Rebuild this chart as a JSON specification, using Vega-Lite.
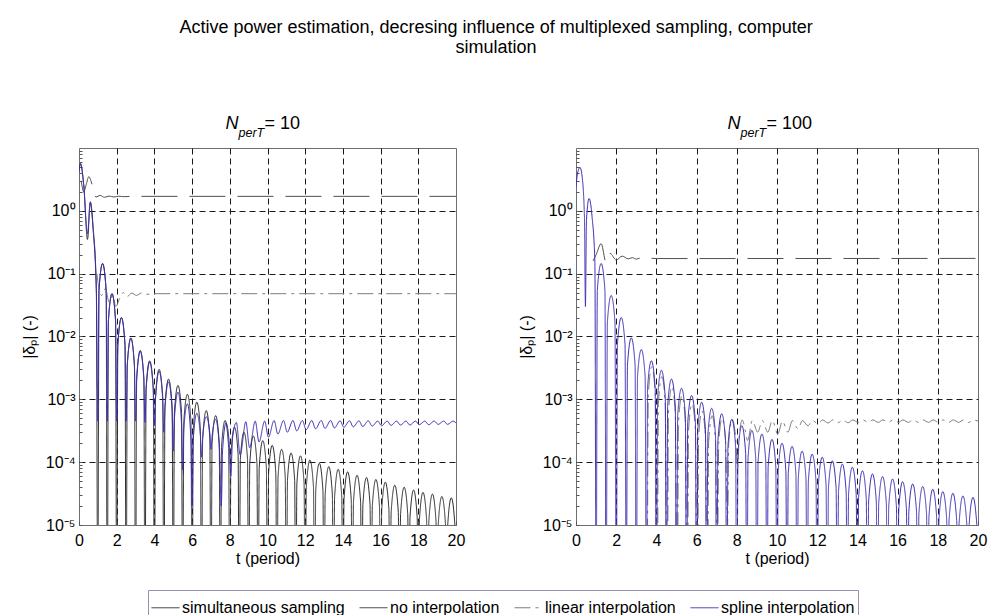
{
"$schema": "https://vega.github.io/schema/vega-lite/v6.json",
"background": "white",
"padding": {"left": 20, "top": 18, "right": 5, "bottom": 5},
"title": {"text": ["Active power estimation, decresing influence of multiplexed sampling, computer", "simulation"], "fontSize": 18, "fontWeight": "normal", "font": "Liberation Sans", "anchor": "middle", "offset": 58, "lineHeight": 20, "dx": -8, "color": "#000"},
"spacing": 51,
"datasets": {
"L": [
{"s":"a","t":0,"v":4.2},{"s":"a","t":0.08,"v":5.6},{"s":"a","t":0.25,"v":2.6},{"s":"a","t":0.45,"v":0.35},{"s":"a","t":0.6,"v":1.35},{"s":"a","t":0.75,"v":0.5},{"s":"a","t":0.92,"v":0.05},{"s":"a","t":1,"v":1e-7},
{"s":"a","t":1.06,"v":0.0537},{"s":"a","t":1.25,"v":0.145},{"s":"a","t":1.44,"v":0.0537},{"s":"a","t":1.5,"v":1e-7},
{"s":"a","t":1.56,"v":0.0178},{"s":"a","t":1.75,"v":0.048},{"s":"a","t":1.94,"v":0.0178},{"s":"a","t":2,"v":1e-7},
{"s":"a","t":2.06,"v":0.0074},{"s":"a","t":2.25,"v":0.02},{"s":"a","t":2.44,"v":0.0074},{"s":"a","t":2.5,"v":1e-7},
{"s":"a","t":2.56,"v":0.0035},{"s":"a","t":2.75,"v":0.0095},{"s":"a","t":2.94,"v":0.0035},{"s":"a","t":3,"v":1e-7},
{"s":"a","t":3.06,"v":0.0022},{"s":"a","t":3.25,"v":0.006},{"s":"a","t":3.44,"v":0.0022},{"s":"a","t":3.5,"v":1e-7},
{"s":"a","t":3.56,"v":0.00152},{"s":"a","t":3.75,"v":0.0041},{"s":"a","t":3.94,"v":0.00152},{"s":"a","t":4,"v":1e-7},
{"s":"a","t":4.06,"v":0.00111},{"s":"a","t":4.25,"v":0.003},{"s":"a","t":4.44,"v":0.00111},{"s":"a","t":4.5,"v":1e-7},
{"s":"a","t":4.56,"v":7.8e-4},{"s":"a","t":4.75,"v":0.0021},{"s":"a","t":4.94,"v":7.8e-4},{"s":"a","t":5,"v":1e-7},
{"s":"a","t":5.06,"v":6.1e-4},{"s":"a","t":5.25,"v":0.00166},{"s":"a","t":5.44,"v":6.1e-4},{"s":"a","t":5.5,"v":1e-7},
{"s":"a","t":5.56,"v":4.4e-4},{"s":"a","t":5.75,"v":0.0012},{"s":"a","t":5.94,"v":4.4e-4},{"s":"a","t":6,"v":1e-7},
{"s":"a","t":6.06,"v":3.3e-4},{"s":"a","t":6.25,"v":9e-4},{"s":"a","t":6.44,"v":3.3e-4},{"s":"a","t":6.5,"v":1e-7},
{"s":"a","t":6.56,"v":2.4e-4},{"s":"a","t":6.75,"v":6.6e-4},{"s":"a","t":6.94,"v":2.4e-4},{"s":"a","t":7,"v":1e-7},
{"s":"a","t":7.06,"v":2e-4},{"s":"a","t":7.25,"v":5.5e-4},{"s":"a","t":7.44,"v":2e-4},{"s":"a","t":7.5,"v":1e-7},
{"s":"a","t":7.56,"v":1.7e-4},{"s":"a","t":7.75,"v":4.6e-4},{"s":"a","t":7.94,"v":1.7e-4},{"s":"a","t":8,"v":1e-7},
{"s":"a","t":8.06,"v":1.33e-4},{"s":"a","t":8.25,"v":3.6e-4},{"s":"a","t":8.44,"v":1.33e-4},{"s":"a","t":8.5,"v":1e-7},
{"s":"a","t":8.56,"v":1.11e-4},{"s":"a","t":8.75,"v":3e-4},{"s":"a","t":8.94,"v":1.11e-4},{"s":"a","t":9,"v":1e-7},
{"s":"a","t":9.06,"v":9.6e-5},{"s":"a","t":9.25,"v":2.6e-4},{"s":"a","t":9.44,"v":9.6e-5},{"s":"a","t":9.5,"v":1e-7},
{"s":"a","t":9.56,"v":8.1e-5},{"s":"a","t":9.75,"v":2.2e-4},{"s":"a","t":9.94,"v":8.1e-5},{"s":"a","t":10,"v":1e-7},
{"s":"a","t":10.06,"v":6.8e-5},{"s":"a","t":10.25,"v":1.85e-4},{"s":"a","t":10.44,"v":6.8e-5},{"s":"a","t":10.5,"v":1e-7},
{"s":"a","t":10.56,"v":5.9e-5},{"s":"a","t":10.75,"v":1.6e-4},{"s":"a","t":10.94,"v":5.9e-5},{"s":"a","t":11,"v":1e-7},
{"s":"a","t":11.06,"v":5.2e-5},{"s":"a","t":11.25,"v":1.4e-4},{"s":"a","t":11.44,"v":5.2e-5},{"s":"a","t":11.5,"v":1e-7},
{"s":"a","t":11.56,"v":4.7e-5},{"s":"a","t":11.75,"v":1.26e-4},{"s":"a","t":11.94,"v":4.7e-5},{"s":"a","t":12,"v":1e-7},
{"s":"a","t":12.06,"v":4e-5},{"s":"a","t":12.25,"v":1.08e-4},{"s":"a","t":12.44,"v":4e-5},{"s":"a","t":12.5,"v":1e-7},
{"s":"a","t":12.56,"v":3.6e-5},{"s":"a","t":12.75,"v":9.6e-5},{"s":"a","t":12.94,"v":3.6e-5},{"s":"a","t":13,"v":1e-7},
{"s":"a","t":13.06,"v":3.1e-5},{"s":"a","t":13.25,"v":8.5e-5},{"s":"a","t":13.44,"v":3.1e-5},{"s":"a","t":13.5,"v":1e-7},
{"s":"a","t":13.56,"v":2.8e-5},{"s":"a","t":13.75,"v":7.7e-5},{"s":"a","t":13.94,"v":2.8e-5},{"s":"a","t":14,"v":1e-7},
{"s":"a","t":14.06,"v":2.6e-5},{"s":"a","t":14.25,"v":7e-5},{"s":"a","t":14.44,"v":2.6e-5},{"s":"a","t":14.5,"v":1e-7},
{"s":"a","t":14.56,"v":2.3e-5},{"s":"a","t":14.75,"v":6.2e-5},{"s":"a","t":14.94,"v":2.3e-5},{"s":"a","t":15,"v":1e-7},
{"s":"a","t":15.06,"v":2.1e-5},{"s":"a","t":15.25,"v":5.7e-5},{"s":"a","t":15.44,"v":2.1e-5},{"s":"a","t":15.5,"v":1e-7},
{"s":"a","t":15.56,"v":1.96e-5},{"s":"a","t":15.75,"v":5.3e-5},{"s":"a","t":15.94,"v":1.96e-5},{"s":"a","t":16,"v":1e-7},
{"s":"a","t":16.06,"v":1.78e-5},{"s":"a","t":16.25,"v":4.8e-5},{"s":"a","t":16.44,"v":1.78e-5},{"s":"a","t":16.5,"v":1e-7},
{"s":"a","t":16.56,"v":1.6e-5},{"s":"a","t":16.75,"v":4.3e-5},{"s":"a","t":16.94,"v":1.6e-5},{"s":"a","t":17,"v":1e-7},
{"s":"a","t":17.06,"v":1.48e-5},{"s":"a","t":17.25,"v":4e-5},{"s":"a","t":17.44,"v":1.48e-5},{"s":"a","t":17.5,"v":1e-7},
{"s":"a","t":17.56,"v":1.33e-5},{"s":"a","t":17.75,"v":3.6e-5},{"s":"a","t":17.94,"v":1.33e-5},{"s":"a","t":18,"v":1e-7},
{"s":"a","t":18.06,"v":1.22e-5},{"s":"a","t":18.25,"v":3.3e-5},{"s":"a","t":18.44,"v":1.22e-5},{"s":"a","t":18.5,"v":1e-7},
{"s":"a","t":18.56,"v":1.15e-5},{"s":"a","t":18.75,"v":3.1e-5},{"s":"a","t":18.94,"v":1.15e-5},{"s":"a","t":19,"v":1e-7},
{"s":"a","t":19.06,"v":1.05e-5},{"s":"a","t":19.25,"v":2.85e-5},{"s":"a","t":19.44,"v":1.05e-5},{"s":"a","t":19.5,"v":1e-7},
{"s":"a","t":19.56,"v":1e-5},{"s":"a","t":19.75,"v":2.7e-5},{"s":"a","t":19.94,"v":1e-5},{"s":"a","t":20,"v":1e-7},
{"s":"b","t":0.12,"v":3.0},{"s":"b","t":0.25,"v":2.0},{"s":"b","t":0.38,"v":2.6},{"s":"b","t":0.52,"v":3.5},{"s":"b","t":0.7,"v":2.6},{"s":"b","t":0.9,"v":1.66},{"s":"b","t":1.12,"v":1.76},{"s":"b","t":1.35,"v":1.64},{"s":"b","t":1.6,"v":1.72},{"s":"b","t":1.85,"v":1.66},{"s":"b","t":2.1,"v":1.71},{"s":"b","t":2.4,"v":1.68},{"s":"b","t":2.8,"v":1.7},{"s":"b","t":20,"v":1.7},
{"s":"c","t":0.95,"v":0.1},{"s":"c","t":1.05,"v":0.06},{"s":"c","t":1.2,"v":0.045},{"s":"c","t":1.4,"v":0.058},{"s":"c","t":1.6,"v":0.035},{"s":"c","t":1.8,"v":0.045},{"s":"c","t":1.95,"v":0.03},{"s":"c","t":2.15,"v":0.04},{"s":"c","t":2.35,"v":0.05},{"s":"c","t":2.55,"v":0.043},{"s":"c","t":2.8,"v":0.049},{"s":"c","t":3.05,"v":0.045},{"s":"c","t":3.3,"v":0.049},{"s":"c","t":3.6,"v":0.047},{"s":"c","t":4,"v":0.048},{"s":"c","t":20,"v":0.048},
{"s":"d","t":0,"v":4.5},{"s":"d","t":0.08,"v":5.7},{"s":"d","t":0.25,"v":2.6},{"s":"d","t":0.45,"v":0.43},{"s":"d","t":0.6,"v":1.4},{"s":"d","t":0.75,"v":0.55},{"s":"d","t":0.92,"v":0.06},{"s":"d","t":1,"v":4.5e-4},
{"s":"d","t":1.06,"v":0.0537},{"s":"d","t":1.25,"v":0.145},{"s":"d","t":1.44,"v":0.0537},{"s":"d","t":1.5,"v":4.5e-4},
{"s":"d","t":1.56,"v":0.0178},{"s":"d","t":1.75,"v":0.048},{"s":"d","t":1.94,"v":0.0178},{"s":"d","t":2,"v":4.5e-4},
{"s":"d","t":2.06,"v":0.0074},{"s":"d","t":2.25,"v":0.02},{"s":"d","t":2.44,"v":0.0074},{"s":"d","t":2.5,"v":4.5e-4},
{"s":"d","t":2.56,"v":0.0035},{"s":"d","t":2.75,"v":0.0093},{"s":"d","t":2.94,"v":0.0034},{"s":"d","t":3,"v":4.5e-4},
{"s":"d","t":3.06,"v":0.0021},{"s":"d","t":3.25,"v":0.0058},{"s":"d","t":3.44,"v":0.0021},{"s":"d","t":3.5,"v":4.3e-4},
{"s":"d","t":3.56,"v":0.0014},{"s":"d","t":3.75,"v":0.0039},{"s":"d","t":3.94,"v":0.0014},{"s":"d","t":4,"v":3.8e-4},
{"s":"d","t":4.06,"v":0.001},{"s":"d","t":4.25,"v":0.0028},{"s":"d","t":4.44,"v":0.001},{"s":"d","t":4.5,"v":3e-4},
{"s":"d","t":4.56,"v":7e-4},{"s":"d","t":4.75,"v":0.0019},{"s":"d","t":4.94,"v":6.5e-4},{"s":"d","t":5,"v":1.5e-4},
{"s":"d","t":5.06,"v":4.8e-4},{"s":"d","t":5.25,"v":0.0013},{"s":"d","t":5.44,"v":4e-4},{"s":"d","t":5.5,"v":7.5e-5},
{"s":"d","t":5.56,"v":3.3e-4},{"s":"d","t":5.75,"v":8.5e-4},{"s":"d","t":5.94,"v":2.2e-4},{"s":"d","t":6,"v":2e-5},
{"s":"d","t":6.06,"v":2.2e-4},{"s":"d","t":6.25,"v":6e-4},{"s":"d","t":6.44,"v":2.6e-4},{"s":"d","t":6.5,"v":1.2e-4},
{"s":"d","t":6.56,"v":2.4e-4},{"s":"d","t":6.75,"v":5.3e-4},{"s":"d","t":6.94,"v":2.9e-4},{"s":"d","t":7,"v":1.6e-4},
{"s":"d","t":7.06,"v":2.6e-4},{"s":"d","t":7.25,"v":4.8e-4},{"s":"d","t":7.44,"v":1.8e-4},{"s":"d","t":7.55,"v":2e-5},
{"s":"d","t":7.62,"v":1.6e-4},{"s":"d","t":7.8,"v":4.2e-4},{"s":"d","t":7.96,"v":2.2e-4},{"s":"d","t":8.05,"v":6e-5},
{"s":"d","t":8.15,"v":2.5e-4},{"s":"d","t":8.35,"v":4.3e-4},{"s":"d","t":8.55,"v":1.3e-4},{"s":"d","t":8.85,"v":4.4e-4},
{"s":"d","t":9.05,"v":1.7e-4},{"s":"d","t":9.35,"v":4.5e-4},{"s":"d","t":9.55,"v":2.1e-4},{"s":"d","t":9.85,"v":4.5e-4},
{"s":"d","t":10.05,"v":2.5e-4},{"s":"d","t":10.35,"v":4.6e-4},{"s":"d","t":10.55,"v":2.8e-4},{"s":"d","t":10.85,"v":4.6e-4},
{"s":"d","t":11.05,"v":3e-4},{"s":"d","t":11.35,"v":4.6e-4},{"s":"d","t":11.55,"v":3.15e-4},{"s":"d","t":11.85,"v":4.6e-4},
{"s":"d","t":12.05,"v":3.3e-4},{"s":"d","t":12.35,"v":4.6e-4},{"s":"d","t":12.55,"v":3.4e-4},{"s":"d","t":12.85,"v":4.6e-4},
{"s":"d","t":13.05,"v":3.45e-4},{"s":"d","t":13.35,"v":4.6e-4},{"s":"d","t":13.55,"v":3.5e-4},{"s":"d","t":13.85,"v":4.55e-4},
{"s":"d","t":14.05,"v":3.6e-4},{"s":"d","t":14.35,"v":4.55e-4},{"s":"d","t":14.55,"v":3.65e-4},{"s":"d","t":14.85,"v":4.55e-4},
{"s":"d","t":15.05,"v":3.7e-4},{"s":"d","t":15.35,"v":4.55e-4},{"s":"d","t":15.55,"v":3.75e-4},{"s":"d","t":15.85,"v":4.5e-4},
{"s":"d","t":16.05,"v":3.8e-4},{"s":"d","t":16.35,"v":4.5e-4},{"s":"d","t":16.55,"v":3.85e-4},{"s":"d","t":16.85,"v":4.5e-4},
{"s":"d","t":17.05,"v":3.9e-4},{"s":"d","t":17.35,"v":4.5e-4},{"s":"d","t":17.55,"v":3.9e-4},{"s":"d","t":17.85,"v":4.5e-4},
{"s":"d","t":18.05,"v":3.95e-4},{"s":"d","t":18.35,"v":4.5e-4},{"s":"d","t":18.55,"v":3.95e-4},{"s":"d","t":18.85,"v":4.5e-4},
{"s":"d","t":19.05,"v":4e-4},{"s":"d","t":19.35,"v":4.5e-4},{"s":"d","t":19.55,"v":4e-4},{"s":"d","t":19.85,"v":4.5e-4},{"s":"d","t":20,"v":4.2e-4}
],
"R": [
{"s":"b","t":0.85,"v":0.16},{"s":"b","t":1,"v":0.2},{"s":"b","t":1.25,"v":0.3},{"s":"b","t":1.5,"v":0.15},{"s":"b","t":1.7,"v":0.21},{"s":"b","t":2,"v":0.165},{"s":"b","t":2.3,"v":0.19},{"s":"b","t":2.6,"v":0.172},{"s":"b","t":2.8,"v":0.18},{"s":"b","t":3,"v":0.17},{"s":"b","t":3.2,"v":0.178},{"s":"b","t":3.45,"v":0.172},{"s":"b","t":3.7,"v":0.176},{"s":"b","t":4,"v":0.174},{"s":"b","t":20,"v":0.175},
{"s":"c","t":3.54,"v":1e-7},{"s":"c","t":3.6,"v":0.0012},{"s":"c","t":3.77,"v":0.0033},{"s":"c","t":3.94,"v":0.0012},
{"s":"c","t":4.04,"v":1e-7},{"s":"c","t":4.1,"v":8.5e-4},{"s":"c","t":4.27,"v":0.0023},{"s":"c","t":4.44,"v":8.5e-4},
{"s":"c","t":4.54,"v":1e-7},{"s":"c","t":4.6,"v":6e-4},{"s":"c","t":4.77,"v":0.0016},{"s":"c","t":4.94,"v":6e-4},
{"s":"c","t":5.04,"v":1e-7},{"s":"c","t":5.1,"v":4.3e-4},{"s":"c","t":5.27,"v":0.00115},{"s":"c","t":5.44,"v":4.3e-4},
{"s":"c","t":5.54,"v":1e-7},{"s":"c","t":5.6,"v":3.2e-4},{"s":"c","t":5.77,"v":8.5e-4},{"s":"c","t":5.94,"v":3.2e-4},
{"s":"c","t":6.04,"v":1e-7},{"s":"c","t":6.1,"v":2.5e-4},{"s":"c","t":6.27,"v":6.5e-4},{"s":"c","t":6.44,"v":2.5e-4},
{"s":"c","t":6.54,"v":1e-7},{"s":"c","t":6.6,"v":2.1e-4},{"s":"c","t":6.77,"v":5.5e-4},{"s":"c","t":6.94,"v":2.1e-4},
{"s":"c","t":7.04,"v":2e-6},{"s":"c","t":7.1,"v":2e-4},{"s":"c","t":7.27,"v":5e-4},{"s":"c","t":7.44,"v":2.2e-4},
{"s":"c","t":7.54,"v":1e-5},{"s":"c","t":7.6,"v":2e-4},{"s":"c","t":7.77,"v":4.8e-4},{"s":"c","t":7.94,"v":2.5e-4},
{"s":"c","t":8.04,"v":8e-5},{"s":"c","t":8.12,"v":2.5e-4},{"s":"c","t":8.27,"v":4.7e-4},{"s":"c","t":8.44,"v":3e-4},
{"s":"c","t":8.54,"v":2.2e-4},{"s":"c","t":8.77,"v":4.6e-4},{"s":"c","t":9.04,"v":3e-4},{"s":"c","t":9.27,"v":4.6e-4},
{"s":"c","t":9.54,"v":3e-4},{"s":"c","t":9.77,"v":4.6e-4},{"s":"c","t":10.04,"v":2.8e-4},{"s":"c","t":10.27,"v":4.5e-4},
{"s":"c","t":10.54,"v":3e-4},{"s":"c","t":10.77,"v":4.6e-4},{"s":"c","t":11.04,"v":3.4e-4},{"s":"c","t":11.27,"v":4.6e-4},
{"s":"c","t":11.54,"v":3.8e-4},{"s":"c","t":11.77,"v":4.6e-4},{"s":"c","t":12.04,"v":4.1e-4},{"s":"c","t":12.27,"v":4.7e-4},
{"s":"c","t":12.54,"v":4.2e-4},{"s":"c","t":12.77,"v":4.7e-4},{"s":"c","t":13.04,"v":4.25e-4},{"s":"c","t":13.27,"v":4.7e-4},
{"s":"c","t":13.54,"v":4.25e-4},{"s":"c","t":13.77,"v":4.7e-4},{"s":"c","t":14.04,"v":4.3e-4},{"s":"c","t":14.27,"v":4.7e-4},
{"s":"c","t":14.54,"v":4.3e-4},{"s":"c","t":14.77,"v":4.7e-4},{"s":"c","t":15.04,"v":4.3e-4},{"s":"c","t":15.27,"v":4.7e-4},
{"s":"c","t":15.54,"v":4.3e-4},{"s":"c","t":15.77,"v":4.7e-4},{"s":"c","t":16.04,"v":4.3e-4},{"s":"c","t":16.27,"v":4.7e-4},
{"s":"c","t":16.54,"v":4.3e-4},{"s":"c","t":16.77,"v":4.7e-4},{"s":"c","t":17.04,"v":4.3e-4},{"s":"c","t":17.27,"v":4.7e-4},
{"s":"c","t":17.54,"v":4.3e-4},{"s":"c","t":17.77,"v":4.7e-4},{"s":"c","t":18.04,"v":4.3e-4},{"s":"c","t":18.27,"v":4.7e-4},
{"s":"c","t":18.54,"v":4.3e-4},{"s":"c","t":18.77,"v":4.7e-4},{"s":"c","t":19.04,"v":4.3e-4},{"s":"c","t":19.27,"v":4.7e-4},
{"s":"c","t":19.54,"v":4.3e-4},{"s":"c","t":19.77,"v":4.7e-4},{"s":"c","t":20,"v":4.5e-4},
{"s":"d","t":0,"v":2.4},{"s":"d","t":0.08,"v":4.0},{"s":"d","t":0.2,"v":4.9},{"s":"d","t":0.3,"v":3.6},{"s":"d","t":0.42,"v":0.8},{"s":"d","t":0.47,"v":0.03},{"s":"d","t":0.52,"v":0.7},{"s":"d","t":0.65,"v":1.57},{"s":"d","t":0.8,"v":0.8},{"s":"d","t":0.94,"v":0.15},{"s":"d","t":1,"v":1e-7},
{"s":"d","t":1.06,"v":0.0537},{"s":"d","t":1.25,"v":0.145},{"s":"d","t":1.44,"v":0.0537},{"s":"d","t":1.5,"v":1e-7},
{"s":"d","t":1.56,"v":0.0167},{"s":"d","t":1.75,"v":0.045},{"s":"d","t":1.94,"v":0.0167},{"s":"d","t":2,"v":1e-7},
{"s":"d","t":2.06,"v":0.0074},{"s":"d","t":2.25,"v":0.02},{"s":"d","t":2.44,"v":0.0074},{"s":"d","t":2.5,"v":1e-7},
{"s":"d","t":2.56,"v":0.0035},{"s":"d","t":2.75,"v":0.0095},{"s":"d","t":2.94,"v":0.0035},{"s":"d","t":3,"v":1e-7},
{"s":"d","t":3.06,"v":0.0023},{"s":"d","t":3.25,"v":0.0062},{"s":"d","t":3.44,"v":0.0023},{"s":"d","t":3.5,"v":1e-7},
{"s":"d","t":3.56,"v":0.00152},{"s":"d","t":3.75,"v":0.0041},{"s":"d","t":3.94,"v":0.00152},{"s":"d","t":4,"v":1e-7},
{"s":"d","t":4.06,"v":0.00107},{"s":"d","t":4.25,"v":0.0029},{"s":"d","t":4.44,"v":0.00107},{"s":"d","t":4.5,"v":1e-7},
{"s":"d","t":4.56,"v":7.8e-4},{"s":"d","t":4.75,"v":0.0021},{"s":"d","t":4.94,"v":7.8e-4},{"s":"d","t":5,"v":1e-7},
{"s":"d","t":5.06,"v":5.6e-4},{"s":"d","t":5.25,"v":0.0015},{"s":"d","t":5.44,"v":5.6e-4},{"s":"d","t":5.5,"v":1e-7},
{"s":"d","t":5.56,"v":4.3e-4},{"s":"d","t":5.75,"v":0.00115},{"s":"d","t":5.94,"v":4.3e-4},{"s":"d","t":6,"v":1e-7},
{"s":"d","t":6.06,"v":3.3e-4},{"s":"d","t":6.25,"v":9e-4},{"s":"d","t":6.44,"v":3.3e-4},{"s":"d","t":6.5,"v":1e-7},
{"s":"d","t":6.56,"v":2.7e-4},{"s":"d","t":6.75,"v":7.2e-4},{"s":"d","t":6.94,"v":2.7e-4},{"s":"d","t":7,"v":1e-7},
{"s":"d","t":7.06,"v":2.2e-4},{"s":"d","t":7.25,"v":5.9e-4},{"s":"d","t":7.44,"v":2.2e-4},{"s":"d","t":7.5,"v":1e-7},
{"s":"d","t":7.56,"v":1.8e-4},{"s":"d","t":7.75,"v":4.8e-4},{"s":"d","t":7.94,"v":1.8e-4},{"s":"d","t":8,"v":1e-7},
{"s":"d","t":8.06,"v":1.4e-4},{"s":"d","t":8.25,"v":3.8e-4},{"s":"d","t":8.44,"v":1.4e-4},{"s":"d","t":8.5,"v":1e-7},
{"s":"d","t":8.56,"v":1.18e-4},{"s":"d","t":8.75,"v":3.2e-4},{"s":"d","t":8.94,"v":1.18e-4},{"s":"d","t":9,"v":1e-7},
{"s":"d","t":9.06,"v":1.04e-4},{"s":"d","t":9.25,"v":2.8e-4},{"s":"d","t":9.44,"v":1.04e-4},{"s":"d","t":9.5,"v":1e-7},
{"s":"d","t":9.56,"v":8.5e-5},{"s":"d","t":9.75,"v":2.3e-4},{"s":"d","t":9.94,"v":8.5e-5},{"s":"d","t":10,"v":1e-7},
{"s":"d","t":10.06,"v":7.4e-5},{"s":"d","t":10.25,"v":2e-4},{"s":"d","t":10.44,"v":7.4e-5},{"s":"d","t":10.5,"v":1e-7},
{"s":"d","t":10.56,"v":6.6e-5},{"s":"d","t":10.75,"v":1.78e-4},{"s":"d","t":10.94,"v":6.6e-5},{"s":"d","t":11,"v":1e-7},
{"s":"d","t":11.06,"v":5.6e-5},{"s":"d","t":11.25,"v":1.5e-4},{"s":"d","t":11.44,"v":5.6e-5},{"s":"d","t":11.5,"v":1e-7},
{"s":"d","t":11.56,"v":5e-5},{"s":"d","t":11.75,"v":1.34e-4},{"s":"d","t":11.94,"v":5e-5},{"s":"d","t":12,"v":1e-7},
{"s":"d","t":12.06,"v":4.4e-5},{"s":"d","t":12.25,"v":1.2e-4},{"s":"d","t":12.44,"v":4.4e-5},{"s":"d","t":12.5,"v":1e-7},
{"s":"d","t":12.56,"v":3.9e-5},{"s":"d","t":12.75,"v":1.05e-4},{"s":"d","t":12.94,"v":3.9e-5},{"s":"d","t":13,"v":1e-7},
{"s":"d","t":13.06,"v":3.4e-5},{"s":"d","t":13.25,"v":9.3e-5},{"s":"d","t":13.44,"v":3.4e-5},{"s":"d","t":13.5,"v":1e-7},
{"s":"d","t":13.56,"v":3.1e-5},{"s":"d","t":13.75,"v":8.3e-5},{"s":"d","t":13.94,"v":3.1e-5},{"s":"d","t":14,"v":1e-7},
{"s":"d","t":14.06,"v":2.7e-5},{"s":"d","t":14.25,"v":7.3e-5},{"s":"d","t":14.44,"v":2.7e-5},{"s":"d","t":14.5,"v":1e-7},
{"s":"d","t":14.56,"v":2.4e-5},{"s":"d","t":14.75,"v":6.5e-5},{"s":"d","t":14.94,"v":2.4e-5},{"s":"d","t":15,"v":1e-7},
{"s":"d","t":15.06,"v":2.2e-5},{"s":"d","t":15.25,"v":5.9e-5},{"s":"d","t":15.44,"v":2.2e-5},{"s":"d","t":15.5,"v":1e-7},
{"s":"d","t":15.56,"v":2e-5},{"s":"d","t":15.75,"v":5.4e-5},{"s":"d","t":15.94,"v":2e-5},{"s":"d","t":16,"v":1e-7},
{"s":"d","t":16.06,"v":1.8e-5},{"s":"d","t":16.25,"v":4.9e-5},{"s":"d","t":16.44,"v":1.8e-5},{"s":"d","t":16.5,"v":1e-7},
{"s":"d","t":16.56,"v":1.67e-5},{"s":"d","t":16.75,"v":4.5e-5},{"s":"d","t":16.94,"v":1.67e-5},{"s":"d","t":17,"v":1e-7},
{"s":"d","t":17.06,"v":1.52e-5},{"s":"d","t":17.25,"v":4.1e-5},{"s":"d","t":17.44,"v":1.52e-5},{"s":"d","t":17.5,"v":1e-7},
{"s":"d","t":17.56,"v":1.37e-5},{"s":"d","t":17.75,"v":3.7e-5},{"s":"d","t":17.94,"v":1.37e-5},{"s":"d","t":18,"v":1e-7},
{"s":"d","t":18.06,"v":1.26e-5},{"s":"d","t":18.25,"v":3.4e-5},{"s":"d","t":18.44,"v":1.26e-5},{"s":"d","t":18.5,"v":1e-7},
{"s":"d","t":18.56,"v":1.18e-5},{"s":"d","t":18.75,"v":3.2e-5},{"s":"d","t":18.94,"v":1.18e-5},{"s":"d","t":19,"v":1e-7},
{"s":"d","t":19.06,"v":1.07e-5},{"s":"d","t":19.25,"v":2.9e-5},{"s":"d","t":19.44,"v":1.07e-5},{"s":"d","t":19.5,"v":1e-7},
{"s":"d","t":19.56,"v":1.02e-5},{"s":"d","t":19.75,"v":2.75e-5},{"s":"d","t":19.94,"v":1.02e-5},{"s":"d","t":20,"v":1e-7}
]
},
"hconcat": [
{
"width": 377, "height": 377,
"encoding": {
"x": {"field": "t", "type": "quantitative", "scale": {"domain": [0, 20], "nice": false, "zero": false},
 "axis": {"values": [0,2,4,6,8,10,12,14,16,18,20], "title": "t  (period)", "tickSize": -4, "labelPadding": 11, "titlePadding": 2, "labelOverlap": false, "labelFlush": false, "gridOpacity": {"condition": {"test": "datum.value > 0 && datum.value < 20", "value": 1}, "value": 0}}},
"y": {"field": "v", "type": "quantitative", "scale": {"type": "log", "domain": [1e-5, 10], "nice": false},
 "axis": {"values": [1e-5,2e-5,3e-5,4e-5,5e-5,6e-5,7e-5,8e-5,9e-5,1e-4,2e-4,3e-4,4e-4,5e-4,6e-4,7e-4,8e-4,9e-4,0.001,0.002,0.003,0.004,0.005,0.006,0.007,0.008,0.009,0.01,0.02,0.03,0.04,0.05,0.06,0.07,0.08,0.09,0.1,0.2,0.3,0.4,0.5,0.6,0.7,0.8,0.9,1,2,3,4,5,6,7,8,9],
  "labelExpr": "abs(log(datum.value)/LN10 - round(log(datum.value)/LN10)) < 0.01 ? '10' + ['⁻⁵','⁻⁴','⁻³','⁻²','⁻¹','⁰','¹'][round(log(datum.value)/LN10)+5] : ''",
  "title": "|δₚ| (-)", "tickSize": -3, "labelPadding": 7, "titlePadding": 8, "labelOverlap": false, "labelFlush": false,
  "gridOpacity": {"condition": {"test": "abs(log(datum.value)/LN10 - round(log(datum.value)/LN10)) < 0.01 && datum.value > 2e-5", "value": 1}, "value": 0}}}
},
"layer": [
{
"data": {"name": "L"},
"mark": {"type": "line", "clip": true, "interpolate": "monotone", "strokeWidth": 1},
"encoding": {
"color": {"field": "s", "type": "nominal", "scale": {"domain": ["a","b","c","d"], "range": ["#2a2a2a","#505050","#7c7c7c","#3b2db3"]}, "legend": {"title": null, "orient": "none", "legendX": 69, "legendY": 442, "labelExpr": "{'a':'simultaneous sampling','b':'no interpolation','c':'linear interpolation','d':'spline interpolation'}[datum.label]"}},
"strokeDash": {"field": "s", "type": "nominal", "scale": {"domain": ["a","b","c","d"], "range": [[1,0],[36,12],[16,5,3,5],[1,0]]}, "legend": {"title": null, "orient": "none", "legendX": 69, "legendY": 442, "labelExpr": "{'a':'simultaneous sampling','b':'no interpolation','c':'linear interpolation','d':'spline interpolation'}[datum.label]"}}
}
},
{"data": {"values": [{"t": 10, "v": 10, "txt": "N"}]}, "mark": {"type": "text", "fontSize": 18, "fontStyle": "italic", "align": "left", "baseline": "alphabetic", "dx": -42, "dy": -19, "color": "#000"},
 "encoding": {"text": {"field": "txt"}}},
{"data": {"values": [{"t": 10, "v": 10, "txt": "perT"}]}, "mark": {"type": "text", "fontSize": 12.5, "fontStyle": "italic", "align": "left", "baseline": "alphabetic", "dx": -29, "dy": -11, "color": "#000"},
 "encoding": {"text": {"field": "txt"}}},
{"data": {"values": [{"t": 10, "v": 10, "txt": "= 10"}]}, "mark": {"type": "text", "fontSize": 18, "align": "left", "baseline": "alphabetic", "dx": -3, "dy": -19, "color": "#000"},
 "encoding": {"text": {"field": "txt"}}}
]
},
{
"width": 402, "height": 377,
"encoding": {
"x": {"field": "t", "type": "quantitative", "scale": {"domain": [0, 20], "nice": false, "zero": false},
 "axis": {"values": [0,2,4,6,8,10,12,14,16,18,20], "title": "t  (period)", "tickSize": -4, "labelPadding": 11, "titlePadding": 2, "labelOverlap": false, "labelFlush": false, "gridOpacity": {"condition": {"test": "datum.value > 0 && datum.value < 20", "value": 1}, "value": 0}}},
"y": {"field": "v", "type": "quantitative", "scale": {"type": "log", "domain": [1e-5, 10], "nice": false},
 "axis": {"values": [1e-5,2e-5,3e-5,4e-5,5e-5,6e-5,7e-5,8e-5,9e-5,1e-4,2e-4,3e-4,4e-4,5e-4,6e-4,7e-4,8e-4,9e-4,0.001,0.002,0.003,0.004,0.005,0.006,0.007,0.008,0.009,0.01,0.02,0.03,0.04,0.05,0.06,0.07,0.08,0.09,0.1,0.2,0.3,0.4,0.5,0.6,0.7,0.8,0.9,1,2,3,4,5,6,7,8,9],
  "labelExpr": "abs(log(datum.value)/LN10 - round(log(datum.value)/LN10)) < 0.01 ? '10' + ['⁻⁵','⁻⁴','⁻³','⁻²','⁻¹','⁰','¹'][round(log(datum.value)/LN10)+5] : ''",
  "title": "|δₚ| (-)", "tickSize": -3, "labelPadding": 7, "titlePadding": 8, "labelOverlap": false, "labelFlush": false,
  "gridOpacity": {"condition": {"test": "abs(log(datum.value)/LN10 - round(log(datum.value)/LN10)) < 0.01 && datum.value > 2e-5", "value": 1}, "value": 0}}}
},
"layer": [
{
"data": {"name": "R"},
"mark": {"type": "line", "clip": true, "interpolate": "monotone", "strokeWidth": 1},
"encoding": {
"color": {"field": "s", "type": "nominal", "scale": {"domain": ["a","b","c","d"], "range": ["#2a2a2a","#505050","#7c7c7c","#3b2db3"]}, "legend": {"title": null, "orient": "none", "legendX": 69, "legendY": 442, "labelExpr": "{'a':'simultaneous sampling','b':'no interpolation','c':'linear interpolation','d':'spline interpolation'}[datum.label]"}},
"strokeDash": {"field": "s", "type": "nominal", "scale": {"domain": ["a","b","c","d"], "range": [[1,0],[36,12],[16,5,3,5],[1,0]]}, "legend": {"title": null, "orient": "none", "legendX": 69, "legendY": 442, "labelExpr": "{'a':'simultaneous sampling','b':'no interpolation','c':'linear interpolation','d':'spline interpolation'}[datum.label]"}}
}
},
{"data": {"values": [{"t": 10, "v": 10, "txt": "N"}]}, "mark": {"type": "text", "fontSize": 18, "fontStyle": "italic", "align": "left", "baseline": "alphabetic", "dx": -49.5, "dy": -19, "color": "#000"},
 "encoding": {"text": {"field": "txt"}}},
{"data": {"values": [{"t": 10, "v": 10, "txt": "perT"}]}, "mark": {"type": "text", "fontSize": 12.5, "fontStyle": "italic", "align": "left", "baseline": "alphabetic", "dx": -36.5, "dy": -11, "color": "#000"},
 "encoding": {"text": {"field": "txt"}}},
{"data": {"values": [{"t": 10, "v": 10, "txt": "= 100"}]}, "mark": {"type": "text", "fontSize": 18, "align": "left", "baseline": "alphabetic", "dx": -10.5, "dy": -19, "color": "#000"},
 "encoding": {"text": {"field": "txt"}}}
]
}
],
"config": {
"font": "Liberation Sans",
"view": {"stroke": "#6e6e6e", "strokeWidth": 1},
"axis": {"domain": false, "grid": true, "gridColor": "#1a1a1a", "gridDash": [6, 4], "gridWidth": 1, "tickColor": "#555", "tickWidth": 1, "labelFontSize": 16, "labelColor": "#000", "labelFont": "Liberation Sans", "titleFont": "Liberation Sans", "titleFontSize": 16, "titleFontWeight": "normal", "titleColor": "#000"},
"legend": {"direction": "horizontal", "symbolType": "stroke", "symbolSize": 784, "symbolStrokeWidth": 1, "labelFontSize": 16, "labelFont": "Liberation Sans", "labelColor": "#000", "labelOffset": 2, "columnPadding": 12, "padding": 3, "strokeColor": "#9b8fb0", "fillColor": "white", "labelLimit": 400}
}
}
